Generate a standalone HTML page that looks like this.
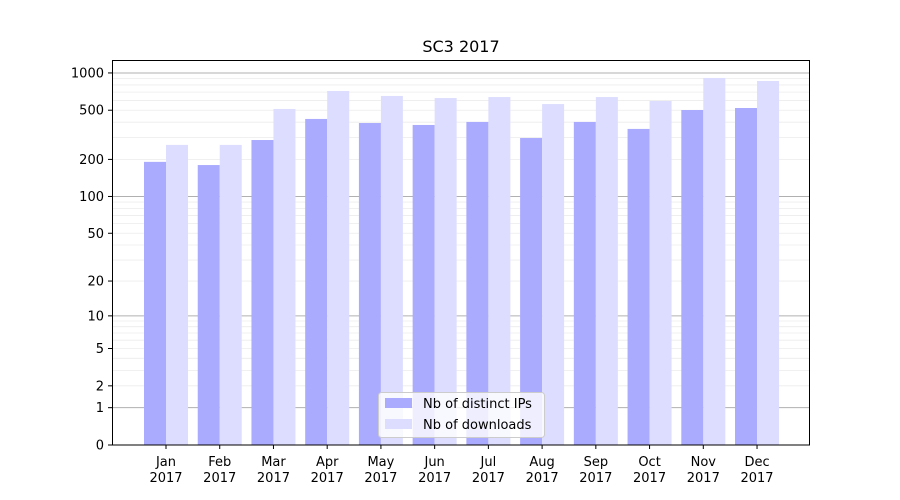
<!DOCTYPE html>
<html><head><style>body{margin:0;background:#fff}svg{display:block}text{font-family:"DejaVu Sans","Liberation Sans",sans-serif;fill:#000}</style></head>
<body>
<svg width="900" height="500" xmlns="http://www.w3.org/2000/svg">
<rect width="900" height="500" fill="#fff"/>
<g id="grid"></g>
<g id="bars"></g>
<rect x="112.5" y="60.5" width="697" height="384.5" fill="none" stroke="#000" stroke-width="1"/>
<g id="ticks" font-size="13"></g>
<text x="461" y="52" font-size="16" text-anchor="middle">SC3 2017</text>
<g>
<rect x="378.5" y="392.5" width="166" height="45" rx="3" fill="#fff" fill-opacity="0.8" stroke="#ccc"/>
<rect x="385" y="398" width="27" height="10" fill="#aaaaff"/>
<text x="423" y="408" font-size="13">Nb of distinct IPs</text>
<rect x="385" y="419" width="27" height="10" fill="#ddddff"/>
<text x="423" y="429" font-size="13">Nb of downloads</text>
</g>
<script>
const ns="http://www.w3.org/2000/svg";
function Y(v){return 445-124*Math.log10(v+1);}
function el(t,a,p,txt){const e=document.createElementNS(ns,t);for(const k in a)e.setAttribute(k,a[k]);if(txt!==undefined)e.textContent=txt;p.appendChild(e);return e;}
const g=document.getElementById('grid'),b=document.getElementById('bars'),tk=document.getElementById('ticks');
[1,10,100,1000].forEach(d=>{for(let m=1;m<10;m++){const v=d*m;if(v>1273)continue;const y=Y(v);el('line',{x1:112,x2:810,y1:y,y2:y,stroke:m==1?'#b0b0b0':'#ececec','stroke-width':m==1?1:0.8},g);}});
[0,1,2,5,10,20,50,100,200,500,1000].forEach(v=>{const y=Y(v);el('line',{x1:108,x2:112,y1:y,y2:y,stroke:'#000'},tk);el('text',{x:104,y:y+4.5,'text-anchor':'end'},tk,String(v));});
const ips=[191,180,287,425,394,380,402,298,402,353,502,521],dl=[262,262,512,715,652,627,639,561,639,594,911,861];
const mo=['Jan','Feb','Mar','Apr','May','Jun','Jul','Aug','Sep','Oct','Nov','Dec'];
for(let i=0;i<12;i++){const c=166+i*53.73;
el('rect',{x:c-22,y:Y(ips[i]),width:22,height:445-Y(ips[i]),fill:'#aaaaff'},b);
el('rect',{x:c,y:Y(dl[i]),width:22,height:445-Y(dl[i]),fill:'#ddddff'},b);
el('line',{x1:c,x2:c,y1:445,y2:449,stroke:'#000'},tk);
el('text',{x:c,y:466,'text-anchor':'middle'},tk,mo[i]);
el('text',{x:c,y:482,'text-anchor':'middle'},tk,'2017');}
</script>
</svg>
</body></html>
